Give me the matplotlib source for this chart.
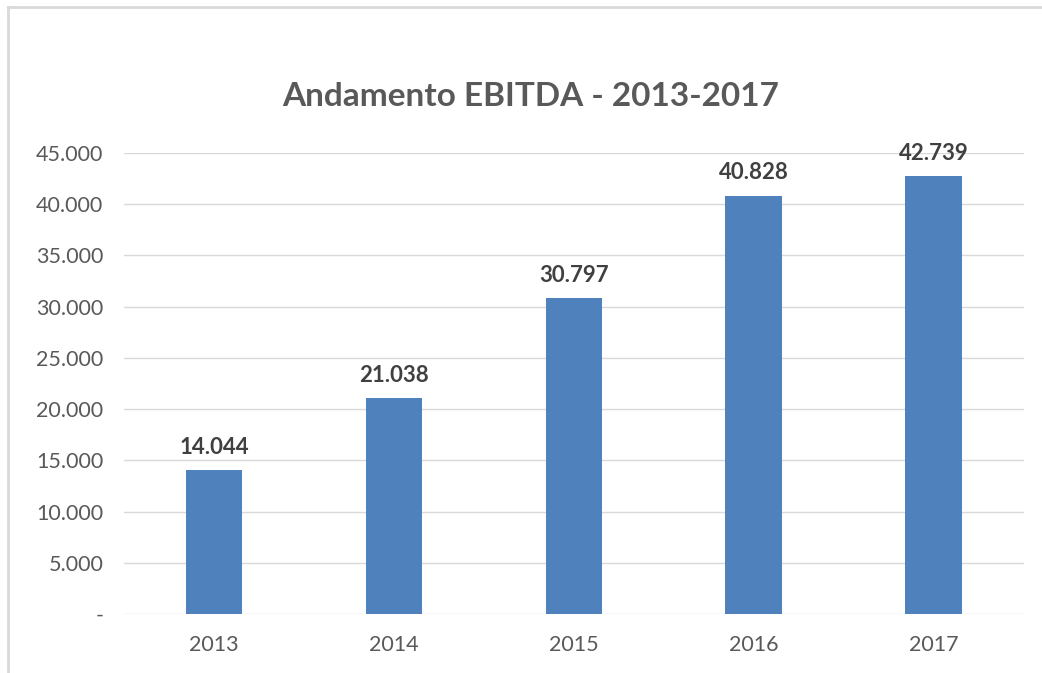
import matplotlib.pyplot as plt
from matplotlib.ticker import FuncFormatter

anni = ['2013', '2014', '2015', '2016', '2017']
ebitda = [14044, 21038, 30797, 40828, 42739]
y_ticks = [0, 5000, 10000, 15000, 20000, 25000, 30000, 35000, 40000, 45000]

plt.rcParams['font.family'] = ['Lato', 'DejaVu Sans']

def fmt_migliaia(v, pos=None):
    if v == 0:
        return '-'
    return f'{v:,.0f}'.replace(',', '.')

fig = plt.figure(figsize=(10.42, 6.73), dpi=100)
ax = fig.add_axes([0.119, 0.0877, 0.8635, 0.685])

x = range(len(anni))
ax.bar(x, ebitda, width=0.315, color='#4F81BD', zorder=2)
for xi, v in zip(x, ebitda):
    ax.text(xi, v + 1200, fmt_migliaia(v), ha='center', va='bottom',
            fontsize=16, fontweight='bold', color='#404040')

ax.set_xlim(-0.5, len(anni) - 0.5)
ax.set_ylim(0, 45000)
ax.set_yticks(y_ticks)
ax.yaxis.set_major_formatter(FuncFormatter(fmt_migliaia))
ax.set_xticks(list(x))
ax.set_xticklabels(anni)
ax.tick_params(axis='both', length=0, labelsize=15.5, labelcolor='#595959')
ax.tick_params(axis='y', pad=15)
ax.tick_params(axis='x', pad=15)
ax.grid(axis='y', color='#d9d9d9', linewidth=1, zorder=0)
for s in ax.spines.values():
    s.set_visible(False)

fig.text(0.509, 0.856, 'Andamento EBITDA - 2013-2017', ha='center', va='center',
         fontsize=24, fontweight='bold', color='#595959')

# bordo del riquadro del grafico
fig.add_artist(plt.Line2D([0.0072, 0.0072], [0, 0.99], color='#d9d9d9', lw=2))
fig.add_artist(plt.Line2D([0.0072, 1], [0.99, 0.99], color='#d9d9d9', lw=2))

fig.savefig('out.png', dpi=100)
